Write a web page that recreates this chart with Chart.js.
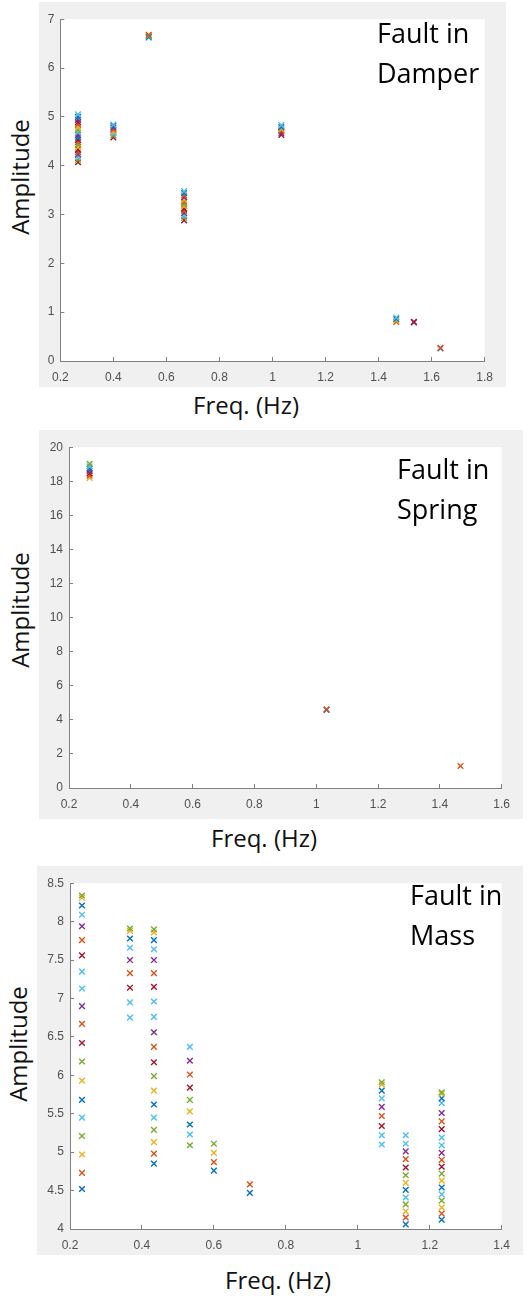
<!DOCTYPE html>
<html>
<head>
<meta charset="utf-8">
<script src="https://cdn.jsdelivr.net/npm/chart.js@4.4.0/dist/chart.umd.min.js"></script>
<style>
  body { margin: 0; background: #fff; width: 531px; height: 1296px; position: relative; overflow: hidden; font-family: "Open Sans", sans-serif; }
  .panel { position: absolute; background: #f0f0f0; }
  .panel canvas { display: block; }
  .lbl { position: absolute; color: #111; font-size: 24px; line-height: 30px; white-space: nowrap; transform: translate(-50%, -50%); }
  .ylbl { transform: translate(-50%, -50%) rotate(-90deg); }
  .note { position: absolute; color: #000; font-size: 27px; line-height: 40px; white-space: nowrap; }
</style>
</head>
<body>
<div class="panel" style="left:39px;top:2px;width:467px;height:385px"><canvas id="damper" width="467" height="385"></canvas></div>
<div class="lbl ylbl" style="left:20px;top:177px">Amplitude</div>
<div class="lbl" style="left:246px;top:405px">Freq. (Hz)</div>
<div class="note" style="left:377px;top:13px">Fault in<br>Damper</div>

<div class="panel" style="left:39px;top:430px;width:484px;height:389px"><canvas id="spring" width="484" height="389"></canvas></div>
<div class="lbl ylbl" style="left:20px;top:610px">Amplitude</div>
<div class="lbl" style="left:264px;top:838px">Freq. (Hz)</div>
<div class="note" style="left:397px;top:449px">Fault in<br>Spring</div>

<div class="panel" style="left:37px;top:866px;width:486px;height:389px"><canvas id="mass" width="486" height="389"></canvas></div>
<div class="lbl ylbl" style="left:18px;top:1044px">Amplitude</div>
<div class="lbl" style="left:278px;top:1280px">Freq. (Hz)</div>
<div class="note" style="left:410px;top:875px">Fault in<br>Mass</div>

<script>
// matlab default colour order, one letter per colour
const colorOrder = { B: '#0072BD', O: '#D95319', Y: '#EDB120', P: '#7E2F8E', G: '#77AC30', L: '#4DBEEE', R: '#A2142F' }

// Fault in Damper: one column of points per frequency, amplitudes bottom to top
const damperFreq = [0.2667, 0.4, 0.5333, 0.6667, 1.0333, 1.4667, 1.5333, 1.6333]
const damperAmp = [
  [4.07, 4.12, 4.18, 4.23, 4.28, 4.33, 4.38, 4.43, 4.48, 4.53, 4.58, 4.63, 4.68, 4.73, 4.78, 4.84, 4.89, 4.94, 5.00, 5.05],
  [4.58, 4.62, 4.66, 4.70, 4.74, 4.78, 4.82, 4.84],
  [6.62, 6.64, 6.66, 6.68],
  [2.88, 2.93, 2.98, 3.03, 3.08, 3.12, 3.17, 3.21, 3.26, 3.30, 3.35, 3.39, 3.44, 3.48],
  [4.63, 4.67, 4.71, 4.75, 4.79, 4.83],
  [0.80, 0.83, 0.86, 0.89],
  [0.79, 0.80],
  [0.26, 0.27]
]
const damperCol = ['RGLPORYGORBPLGYORPBL', 'RGLYOPBL', 'LBGO', 'RGLPORYGOYPOBL', 'RPOYBL', 'OYBL', 'PR', 'BO']
const damperXTicks = [0.2, 0.4, 0.6, 0.8, 1, 1.2, 1.4, 1.6, 1.8]
const damperYTicks = [0, 1, 2, 3, 4, 5, 6, 7]

// Fault in Spring
const springFreq = [0.2667, 1.0333, 1.4667]
const springAmp = [
  [18.20, 18.33, 18.46, 18.62, 18.75, 18.88, 19.02],
  [4.58, 4.62],
  [1.29]
]
const springCol = ['YORPBLG', 'BO', 'O']
const springXTicks = [0.2, 0.4, 0.6, 0.8, 1, 1.2, 1.4, 1.6]
const springYTicks = [0, 2, 4, 6, 8, 10, 12, 14, 16, 18, 20]

// Fault in Mass
const massFreq = [0.2333, 0.3667, 0.4333, 0.5333, 0.6, 0.7, 1.0667, 1.1333, 1.2333]
const massAmp = [
  [4.52, 4.73, 4.97, 5.21, 5.45, 5.68, 5.93, 6.18, 6.42, 6.67, 6.90, 7.13, 7.35, 7.56, 7.76, 7.94, 8.09, 8.21, 8.31, 8.34],
  [6.75, 6.95, 7.14, 7.33, 7.50, 7.66, 7.78, 7.88, 7.91],
  [4.85, 4.98, 5.13, 5.29, 5.45, 5.62, 5.80, 5.99, 6.17, 6.37, 6.56, 6.76, 6.96, 7.15, 7.33, 7.50, 7.64, 7.76, 7.86, 7.90],
  [5.09, 5.23, 5.36, 5.53, 5.68, 5.84, 6.01, 6.19, 6.37],
  [4.76, 4.87, 4.99, 5.11],
  [4.47, 4.58],
  [5.10, 5.22, 5.34, 5.47, 5.59, 5.70, 5.80, 5.88, 5.91],
  [4.06, 4.15, 4.23, 4.32, 4.41, 4.51, 4.60, 4.70, 4.80, 4.91, 5.01, 5.11, 5.22],
  [4.12, 4.20, 4.28, 4.37, 4.45, 4.54, 4.63, 4.72, 4.81, 4.90, 4.99, 5.09, 5.19, 5.30, 5.40, 5.51, 5.64, 5.70, 5.76, 5.78]
]
const massCol = [
  'BOYGLBYGROPLLROPLBYG',
  'LLROPLBYG',
  'BOYGLBYGROPLLROPLBYG',
  'GLBYGROPL',
  'BOYG',
  'BO',
  'LLROPLBYG',
  'BOYGLBYGROPLL',
  'BOYGLBYGROPLLROPLBYG'
]
const massXTicks = [0.2, 0.4, 0.6, 0.8, 1, 1.2, 1.4]
const massYTicks = [4, 4.5, 5, 5.5, 6, 6.5, 7, 7.5, 8, 8.5]

const whiteArea = {
  id: 'whiteArea',
  beforeDraw(chart) {
    const a = chart.chartArea
    chart.ctx.fillStyle = '#fff'
    chart.ctx.fillRect(a.left, a.top, a.right - a.left, a.bottom - a.top)
  }
}

function axis(ticks, pad, fit) {
  return {
    type: 'linear',
    min: ticks[0],
    max: ticks[ticks.length - 1],
    afterBuildTicks: s => { s.ticks = ticks.map(v => ({ value: v })) },
    afterFit: fit,
    border: { color: '#808080', width: 1 },
    grid: { drawOnChartArea: false, tickLength: -4, color: '#808080' },
    ticks: {
      padding: pad,
      color: '#505050',
      font: { family: 'Liberation Sans, Arial, sans-serif', size: 12 },
      callback: v => String(+v.toFixed(2))
    }
  }
}

function makePanel(id, freq, amp, col, xTicks, yTicks, box) {
  const datasets = freq.map((f, i) => ({
    data: amp[i].map(a => ({ x: f, y: a })),
    pointBorderColor: col[i].split('').map(c => colorOrder[c])
  }))
  return new Chart(document.getElementById(id), {
    type: 'scatter',
    data: { datasets },
    options: {
      responsive: false,
      animation: false,
      events: [],
      layout: { padding: { left: 0, top: box.top, right: box.right, bottom: 0 } },
      elements: { point: { pointStyle: 'crossRot', radius: 4, borderWidth: 1.4 } },
      plugins: { legend: { display: false }, tooltip: { enabled: false } },
      scales: {
        x: axis(xTicks, 13, s => { s.height = box.xh }),
        y: axis(yTicks, 10, s => { s.width = box.yw })
      }
    },
    plugins: [whiteArea]
  })
}

makePanel('damper', damperFreq, damperAmp, damperCol, damperXTicks, damperYTicks, { top: 12, right: 13, yw: 20, xh: 26 })
makePanel('spring', springFreq, springAmp, springCol, springXTicks, springYTicks, { top: 12, right: 20, yw: 30, xh: 31 })
makePanel('mass', massFreq, massAmp, massCol, massXTicks, massYTicks, { top: 10, right: 11, yw: 33, xh: 26 })
</script>
</body>
</html>
